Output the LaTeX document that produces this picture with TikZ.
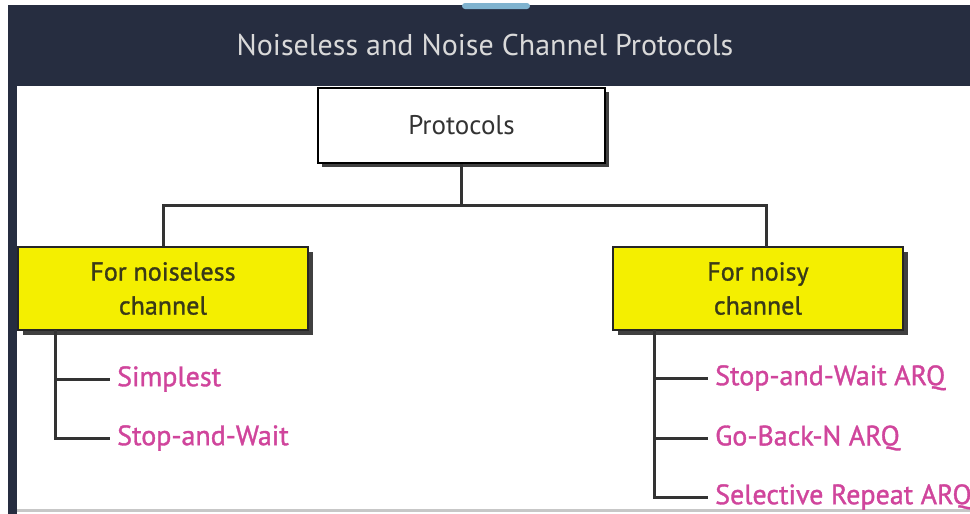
\documentclass[tikz,border=0pt]{standalone}
\usepackage{fontspec}
\setmainfont{PT Sans}
\newfontfamily\semib[FakeBold=1.2]{PT Sans}
\definecolor{hdr}{HTML}{262D40}
\definecolor{tab}{HTML}{7FB3CF}
\definecolor{ylw}{HTML}{F4EF00}
\definecolor{mag}{HTML}{D0459C}
\definecolor{lin}{HTML}{333333}
\definecolor{boxtxt}{HTML}{3A3A18}
\tikzset{
  probox/.style={draw=black, line width=1.5pt, fill=white, minimum width=287pt, minimum height=75pt, inner sep=0pt,
    font=\fontsize{27}{30}\selectfont, text=black!80},
  ybox/.style={draw=black!85, line width=1.5pt, fill=ylw, minimum width=290pt, minimum height=83pt, inner sep=0pt,
    align=center, font=\semib\fontsize{26}{34}\selectfont, text=boxtxt},
  shad/.style={fill=black!75},
  leaf/.style={anchor=west, inner xsep=7pt, inner ysep=0pt, text=mag, font=\semib\fontsize{28}{30}\selectfont},
  conn/.style={draw=lin, line width=3pt},
}
\begin{document}
\begin{tikzpicture}[x=1pt,y=-1pt]
\useasboundingbox (0,0) rectangle (970,514);
\clip (0,0) rectangle (970,514);
\fill[white] (-10,-10) rectangle (1000,530);
% header
\fill[hdr] (8,5) rectangle (1000,86);
\fill[tab, rounded corners=3pt] (462,3) rectangle (530,9);
\node[text=white!85!black, font=\fontsize{30}{32}\selectfont] (title) at (485,45) {Noiseless and Noise Channel Protocols};
% frame
\fill[hdr] (8,86) rectangle (17,530);
\fill[black!22] (17,509) rectangle (1000,512);
% top box
\fill[shad] (322,92) rectangle (609,167);
\node[probox] (proto) at (461.5,125.5) {Protocols};
% yellow boxes
\fill[shad] (23,252) rectangle (313,335);
\node[ybox] (lbox) at (163,288.5) {For noiseless\\channel};
\fill[shad] (618,252) rectangle (908,335);
\node[ybox] (rbox) at (758,288.5) {For noisy\\channel};
\coordinate (rtop) at (766,247);
\coordinate (jn) at (461.5,205);
\draw[conn] (proto.south) -- (jn);
\draw[conn] (lbox.north) |- (jn) -| (rtop);
% leaves left
\node[leaf] (l1) at (110,379) {Simplest};
\node[leaf] (l2) at (110,438) {Stop-and-Wait};
\coordinate (ltr) at (55,330);
\draw[conn] (ltr) |- (l2.west);
\draw[conn] (ltr |- l1.west) -- (l1.west);
% leaves right
\node[leaf] (r1) at (708,378) {Stop-and-Wait ARQ};
\node[leaf] (r2) at (708,438) {Go-Back-N ARQ};
\node[leaf] (r3) at (708,497) {Selective Repeat ARQ};
\coordinate (rtr) at (654,330);
\draw[conn] (rtr) |- (r3.west);
\draw[conn] (rtr |- r1.west) -- (r1.west);
\draw[conn] (rtr |- r2.west) -- (r2.west);
\end{tikzpicture}
\end{document}
